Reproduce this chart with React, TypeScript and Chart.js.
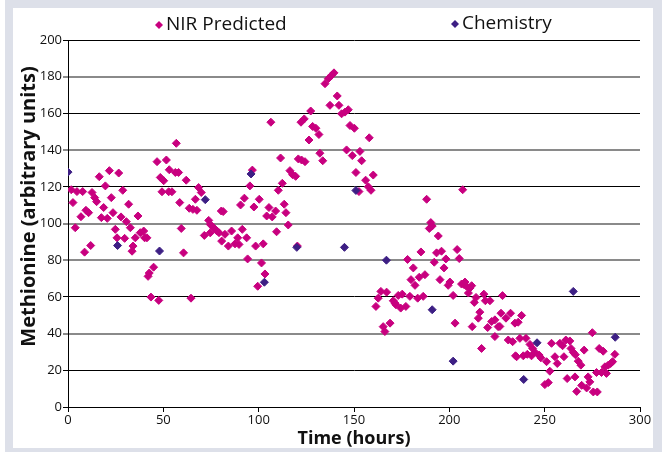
import React, { useEffect, useRef } from "react";
import { Chart, registerables } from "chart.js";

Chart.register(...registerables);

// ---- Data (time in hours, methionine in arbitrary units) ----
const xTicks = [0, 50, 100, 150, 200, 250, 300];
const yTicks = [0, 20, 40, 60, 80, 100, 120, 140, 160, 180, 200];
const seriesLabels = ["NIR Predicted", "Chemistry"];
const xTitle = "Time (hours)";
const yTitle = "Methionine (arbitrary units)";

const nirPredicted: [number, number][] = [
  [1.7, 118.4], [2.6, 111.4], [3.8, 97.7], [4.7, 117.4], [6.8, 103.7], [7.7, 117.4], [8.7, 84.4],
  [9.4, 107.2], [10.8, 105.9], [11.9, 88], [12.6, 116.9], [14, 114.1], [15, 111.9], [16.4, 125.5],
  [17.5, 103.2], [18.7, 108.7], [19.6, 120.5], [20.6, 102.8], [21.7, 128.8], [22.7, 114.1],
  [23.6, 105.9], [24.8, 96.8], [25.7, 92.2], [26.6, 127.5], [27.8, 103.6], [28.7, 118.1],
  [29.7, 91.9], [30.6, 101], [31.8, 110.5], [32.7, 97.7], [33.6, 84.9], [34.1, 87.7], [35.3, 92.2],
  [36.7, 104.1], [37.9, 95], [39.7, 95.9], [40.2, 92.2], [41.4, 92.2], [42, 71.2], [42.6, 73],
  [43.5, 59.9], [44.9, 76.2], [46.7, 133.7], [47.6, 58.1], [48.4, 125.1], [49.3, 117.3],
  [50.2, 123.3], [51.6, 134.6], [52.8, 117.3], [53.1, 129.3], [54.5, 117.3], [56.3, 127.8],
  [56.8, 143.7], [58, 127.8], [58.6, 111.4], [59.4, 97.3], [60.6, 84], [62, 123.6], [63.6, 108.3],
  [64.5, 59.3], [65.5, 107.7], [66.8, 113.2], [67.6, 107.2], [68.5, 119.6], [69.9, 116.9],
  [71.5, 93.5], [73.8, 101.7], [74.6, 99.5], [74.6, 94.9], [76.4, 97.7], [78.1, 95.9], [79.2, 95],
  [80.4, 106.8], [80.6, 90.4], [81.4, 106.5], [82.3, 94.1], [84.1, 87.7], [85.8, 95.9], [87.6, 88.9],
  [89, 92.2], [89.7, 88.6], [90.5, 110.1], [91.4, 96.8], [92.5, 113.8], [93.7, 92.2], [94.2, 80.7],
  [95.4, 120.5], [96.7, 129.1], [97.5, 109], [98.4, 87.7], [99.5, 65.8], [100.3, 113.2],
  [101.5, 78.5], [102.4, 88.9], [103.3, 72.5], [104.2, 104.1], [105.4, 108.7], [106.4, 155.2],
  [107.1, 103.6], [108.9, 106.8], [109.4, 95.5], [110.3, 118.1], [111.5, 135.7], [112.4, 121.9],
  [113.4, 110.5], [114.3, 105.9], [115.5, 99.2], [116.4, 128.8], [117.8, 126.6], [119.4, 125.7],
  [120.3, 87.7], [120.8, 135.2], [122.2, 155.2], [122.5, 134.6], [123.9, 157], [124.3, 133.7],
  [126.4, 145.5], [127.3, 161.3], [128.3, 152.9], [130, 151.9], [131.6, 148.5], [132.1, 138.3],
  [133.6, 134.2], [134.8, 176.2], [136.5, 178.9], [137.4, 164.4], [138.3, 180.8], [139.5, 182.1],
  [141.2, 169.5], [142.1, 164.4], [143.5, 159.8], [145.3, 160.7], [146.1, 140.1], [147, 162],
  [147.9, 153.4], [149.1, 137], [150.2, 151.9], [151, 127.8], [152.6, 117.4], [153.1, 139.3],
  [154, 134.2], [156.1, 123.6], [157.5, 120], [158, 146.7], [158.9, 118.1], [160.1, 126.4],
  [161.5, 54.8], [162.7, 59.3], [164.1, 63], [165.3, 43.8], [166.2, 41.1], [167.1, 62.6],
  [168.9, 45.7], [170.6, 57.9], [171.5, 56.6], [172, 55.7], [173.2, 60.8], [174.5, 53.9],
  [175.3, 61.5], [177.2, 54.8], [178.1, 80.4], [179.3, 60.3], [179.9, 69.4], [181.1, 75.8],
  [182, 66.3], [183.4, 59.3], [184.2, 70.7], [185.1, 84.5], [186.3, 60.3], [187.2, 72.1],
  [188.1, 113.2], [189.5, 97.3], [190.3, 100.5], [191, 98.6], [192.1, 78.9], [193.3, 84],
  [194.2, 93.2], [195.1, 69.4], [195.9, 84.9], [197.2, 75.8], [198.2, 80.7], [199.4, 66.3],
  [200.3, 68.1], [202, 60.8], [203, 45.7], [204.1, 85.8], [205.2, 80.9], [206.4, 67], [207, 118.4],
  [207.7, 66.7], [208.2, 68.1], [209, 65.8], [210, 62.1], [210.8, 64.8], [211.7, 66.1], [212, 43.8],
  [213.1, 57], [214, 59.7], [215.2, 48.4], [216, 51.7], [216.9, 31.9], [218.1, 61.5], [218.9, 57.9],
  [220.1, 43.3], [221.3, 57.9], [222.2, 46.6], [223.9, 47.5], [223.9, 38.4], [225.6, 43.8],
  [226.5, 43.9], [227.1, 51.1], [227.9, 60.7], [229.7, 48.4], [230.9, 36.5], [232.1, 51.1],
  [233.2, 35.6], [234.4, 45.7], [234.7, 27.9], [235.3, 27.4], [236.1, 46.2], [237, 37.4],
  [237.9, 49.9], [238.8, 27.9], [240.2, 37.4], [240.9, 28.7], [242.3, 34.1], [243.1, 27.9],
  [243.7, 31.9], [244.9, 29.8], [247.1, 28.3], [248, 26.8], [250.1, 12.2], [251, 24.7],
  [251.9, 13.3], [252.7, 19.5], [253.6, 34.7], [255.4, 27.4], [256.6, 23.7], [258, 34.7],
  [259.4, 33.4], [260.1, 27.4], [261.1, 36.5], [261.8, 15.5], [263.2, 36], [263.8, 31.9],
  [265, 29.8], [265.9, 16.4], [266.1, 28.5], [266.8, 8.5], [267.6, 25], [269, 22.8], [269.4, 11.8],
  [270.7, 31], [272, 10.4], [272.8, 16.4], [273.7, 13.7], [275, 40.5], [275.5, 8.2], [277.2, 18.8],
  [277.6, 8.2], [278.6, 31.9], [279.8, 18.8], [280.7, 30.4], [281.6, 21.9], [282.4, 18.3],
  [283.3, 22.8], [284.6, 23.7], [285.6, 24.7], [286.8, 28.7],
];

const chemistry: [number, number][] = [
  [0, 128], [26, 88], [48, 85], [72, 113], [96, 127], [103, 68], [120, 87], [145, 87],
  [151, 118], [167, 80], [191, 53], [202, 25], [239, 15], [246, 35], [265, 63], [287, 38],
];

const nirColor = "#c8007f";
const chemColor = "#3d1f84";
const FONT = "'Open Sans', 'Noto Sans', sans-serif";

const blackGridValues = [200, 160, 120, 60, 20, 0];

const legendPlugin = {
  id: "customLegend",
  afterDraw(chart: any) {
    const ctx = chart.ctx;
    const area = chart.chartArea;
    const items = [
      { label: seriesLabels[0], color: nirColor, dx: 91, y: 17 },
      { label: seriesLabels[1], color: chemColor, dx: 387, y: 16 },
    ];
    ctx.save();
    ctx.font = `19px ${FONT}`;
    ctx.textBaseline = "middle";
    ctx.textAlign = "left";
    items.forEach((it) => {
      const x = area.left + it.dx;
      const r = 4;
      ctx.fillStyle = it.color;
      ctx.beginPath();
      ctx.moveTo(x, it.y - r);
      ctx.lineTo(x + r, it.y);
      ctx.lineTo(x, it.y + r);
      ctx.lineTo(x - r, it.y);
      ctx.closePath();
      ctx.fill();
      ctx.fillStyle = "#111";
      ctx.fillText(it.label, x + 7, it.y);
    });
    // Y axis title (slightly above the plot's centre, as in the reference)
    ctx.font = `bold 20px ${FONT}`;
    ctx.textAlign = "center";
    ctx.textBaseline = "middle";
    ctx.translate(16, area.top + (area.bottom - area.top) / 2 - 17);
    ctx.rotate(-Math.PI / 2);
    ctx.fillText(yTitle, 0, 0);
    ctx.restore();
  },
};

export default function App() {
  const canvasRef = useRef<HTMLCanvasElement | null>(null);

  useEffect(() => {
    if (!canvasRef.current) return;
    const chart = new Chart(canvasRef.current, {
      type: "scatter",
      data: {
        datasets: [
          {
            label: seriesLabels[1],
            data: chemistry.map(([x, y]) => ({ x, y })),
            backgroundColor: chemColor,
            borderColor: chemColor,
            pointStyle: "rectRot",
            pointRadius: 4,
            pointBorderWidth: 1,
            order: 0,
          },
          {
            label: seriesLabels[0],
            data: nirPredicted.map(([x, y]) => ({ x, y })),
            backgroundColor: nirColor,
            borderColor: nirColor,
            pointStyle: "rectRot",
            pointRadius: 4,
            pointBorderWidth: 1,
            order: 1,
          },
        ],
      },
      options: {
        animation: false,
        responsive: false,
        devicePixelRatio: 1,
        layout: { padding: { top: 32, right: 13, left: 0, bottom: 0 } },
        plugins: {
          legend: { display: false },
          tooltip: { enabled: false },
        },
        scales: {
          x: {
            type: "linear",
            min: xTicks[0],
            max: xTicks[xTicks.length - 1],
            afterBuildTicks: (scale: any) => {
              scale.ticks = xTicks.map((v) => ({ value: v }));
            },
            afterFit: (scale: any) => {
              scale.height = 41;
            },
            grid: {
              drawOnChartArea: false,
              drawTicks: true,
              tickLength: 5,
              color: "#000",
            },
            border: { color: "#000", width: 1 },
            ticks: {
              color: "#111",
              padding: 0,
              font: { family: FONT, size: 13 },
              maxRotation: 0,
            },
            title: {
              display: true,
              text: xTitle,
              color: "#111",
              font: { family: FONT, size: 18, weight: "bold" },
              padding: { top: 0, bottom: -2 },
            },
          },
          y: {
            type: "linear",
            min: yTicks[0],
            max: yTicks[yTicks.length - 1],
            afterBuildTicks: (scale: any) => {
              scale.ticks = yTicks.map((v) => ({ value: v }));
            },
            afterFit: (scale: any) => {
              scale.width = 55;
            },
            grid: {
              drawTicks: true,
              tickLength: 5,
              color: (c: any) =>
                blackGridValues.includes(c.tick?.value) ? "#000" : "#8a8a8a",
              lineWidth: (c: any) =>
                blackGridValues.includes(c.tick?.value) ? 1 : 2,
            },
            border: { color: "#000", width: 1 },
            ticks: {
              color: "#111",
              padding: 1,
              font: { family: FONT, size: 13 },
            },
            title: { display: false },
          },
        },
      },
      plugins: [legendPlugin],
    } as any);
    return () => chart.destroy();
  }, []);

  return (
    <div
      style={{
        position: "fixed",
        left: 0,
        top: 0,
        width: 662,
        height: 452,
        background: "#ffffff",
        overflow: "hidden",
      }}
    >
      <div
        style={{
          position: "absolute",
          left: 5,
          top: 0,
          width: 657,
          height: 452,
          background: "#dde0e9",
        }}
      />
      <div
        style={{
          position: "absolute",
          left: 13,
          top: 8,
          width: 640,
          height: 440,
          background: "#ffffff",
        }}
      >
        <canvas
          ref={canvasRef}
          width={640}
          height={440}
          style={{ display: "block", width: 640, height: 440 }}
        />
      </div>
    </div>
  );
}
